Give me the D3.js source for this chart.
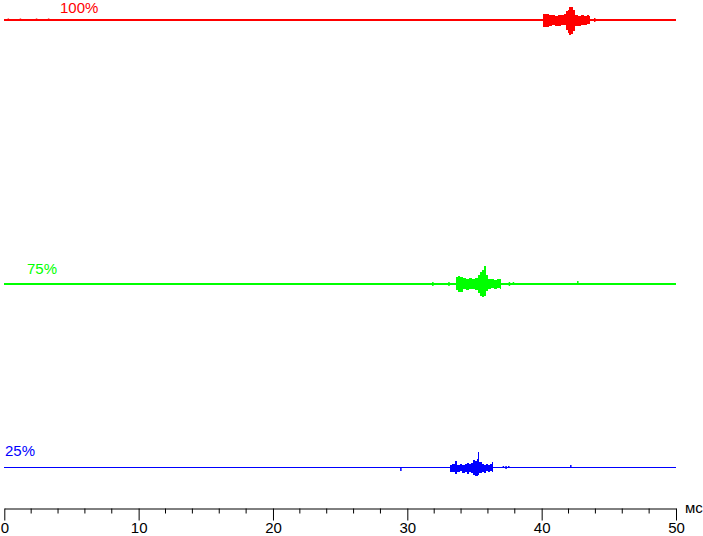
<!DOCTYPE html>
<html><head><meta charset="utf-8">
<script src="https://cdn.jsdelivr.net/npm/d3@7"></script>
<style>html,body{margin:0;padding:0;background:#fff;}svg{display:block;}</style>
</head><body>
<script>
// ---- data ----
const series = ["100%", "75%", "25%"];
const colors = ["#ff0000", "#00ff00", "#0000ff"];
// burst envelopes: [time ms, upper amplitude, lower amplitude]
const burst100 = [
  [40.10, 6, -7], [40.30, 6, -7], [40.53, 5, -6], [40.75, 5, -5], [40.97, 4, -6],
  [41.20, 5, -6], [41.42, 5, -5], [41.64, 6, -5], [41.79, 9, -10], [41.94, 10, -13],
  [42.05, 13, -15], [42.17, 13, -14], [42.32, 10, -11], [42.46, 5, -6], [42.69, 4, -6],
  [42.91, 5, -5], [43.13, 4, -5], [43.36, 5, -4], [43.51, 4, -4], [43.59, 0, 0]
];
const burst75 = [
  [33.60, 7, -6], [33.76, 8, -8], [33.91, 7, -8], [34.13, 6, -5], [34.35, 5, -6],
  [34.58, 6, -5], [34.80, 5, -5], [35.02, 6, -6], [35.25, 9, -9], [35.39, 12, -12],
  [35.54, 14, -13], [35.69, 18, -12], [35.84, 9, -7], [35.99, 5, -5], [36.21, 5, -4],
  [36.44, 4, -5], [36.66, 5, -4], [36.88, 5, -5], [37.00, 0, 0]
];
const burst25 = [
  [33.16, 3, -4], [33.31, 4, -4], [33.54, 7, -6], [33.68, 3, -4], [33.91, 4, -3],
  [34.06, 3, -5], [34.28, 4, -4], [34.43, 5, -6], [34.58, 4, -4], [34.73, 5, -5],
  [34.87, 8, -7], [35.02, 7, -8], [35.17, 9, -8], [35.25, 16, -7], [35.32, 6, -5],
  [35.54, 4, -4], [35.69, 3, -5], [35.84, 4, -3], [35.99, 3, -4], [36.14, 4, -3],
  [36.28, 6, -4], [36.40, 0, 0]
];
// isolated small blips: [time ms, upper, lower]
const blips100 = [[43.95, 1, -1], [0.3, 0.5, 0], [1.2, 0.5, 0], [2.4, 0.5, 0], [3.3, 0.5, 0]];
const blips75 = [[31.9, 1, -1], [33.1, 1, -1], [37.6, 1, -1], [37.9, 1, 0], [42.69, 2, 0]];
const blips25 = [[29.52, 0, -3], [37.15, 1, 0], [37.35, 1, -1], [37.55, 1, 0], [42.17, 2, 0]];
const xTicks = [0, 10, 20, 30, 40, 50];
const xMinorTicks = [2, 4, 6, 8, 12, 14, 16, 18, 22, 24, 26, 28, 32, 34, 36, 38, 42, 44, 46, 48];
const xUnit = "мс";

// ---- layout ----
const W = 703, H = 536;
const svg = d3.select("body").append("svg").attr("width", W).attr("height", H);
const x = d3.scaleLinear().domain([0, 50]).range([4.3, 676]);
const baselines = [20, 284, 467.5];
const widths = [2, 2, 1];
const labelX = [60, 27, 5];
const labelY = [12.5, 274, 456];
const bursts = [burst100, burst75, burst25];
const blips = [blips100, blips75, blips25];
const font = "Liberation Sans, Arial, sans-serif";

series.forEach((name, i) => {
  const y = d3.scaleLinear().domain([-1, 1]).range([baselines[i] + 1, baselines[i] - 1]);
  const g = svg.append("g");
  g.append("line")
    .attr("x1", x(0)).attr("x2", x(50))
    .attr("y1", baselines[i]).attr("y2", baselines[i])
    .attr("stroke", colors[i]).attr("stroke-width", widths[i])
    .attr("shape-rendering", "crispEdges");
  const area = d3.area()
    .x(d => x(d[0]))
    .y0(d => y(d[2]))
    .y1(d => y(d[1]))
    .curve(d3.curveStepAfter);
  g.append("path").datum(bursts[i]).attr("d", area).attr("fill", colors[i]).attr("shape-rendering", "crispEdges");
  g.selectAll("line.blip").data(blips[i]).join("line")
    .attr("class", "blip")
    .attr("x1", d => x(d[0])).attr("x2", d => x(d[0]))
    .attr("y1", d => y(d[1]) - (widths[i] / 2)).attr("y2", d => y(d[2]) + (widths[i] / 2))
    .attr("stroke", colors[i]).attr("stroke-width", 1.5);
  g.append("text")
    .attr("x", labelX[i]).attr("y", labelY[i])
    .attr("fill", colors[i])
    .attr("font-family", font)
    .attr("font-size", 15)
    .text(name);
});

// ---- axis ----
const axisY = 508.5;
const ax = svg.append("g").attr("transform", `translate(0,${axisY})`);
ax.call(d3.axisBottom(x).tickValues(xTicks).tickSize(12).tickSizeOuter(0).tickPadding(2).tickFormat(d3.format("d")));
ax.select(".domain").attr("stroke", "#000");
ax.selectAll(".tick line").attr("stroke", "#000");
ax.selectAll(".tick text").attr("font-family", font).attr("font-size", 15).attr("fill", "#000");
ax.selectAll("line.minor").data(xMinorTicks).join("line")
  .attr("class", "minor")
  .attr("x1", d => x(d)).attr("x2", d => x(d))
  .attr("y1", 0).attr("y2", 5)
  .attr("stroke", "#000");
svg.append("text")
  .attr("x", 685).attr("y", 513)
  .attr("font-family", font)
  .attr("font-size", 15)
  .attr("fill", "#000")
  .text(xUnit);
</script>
</body></html>
